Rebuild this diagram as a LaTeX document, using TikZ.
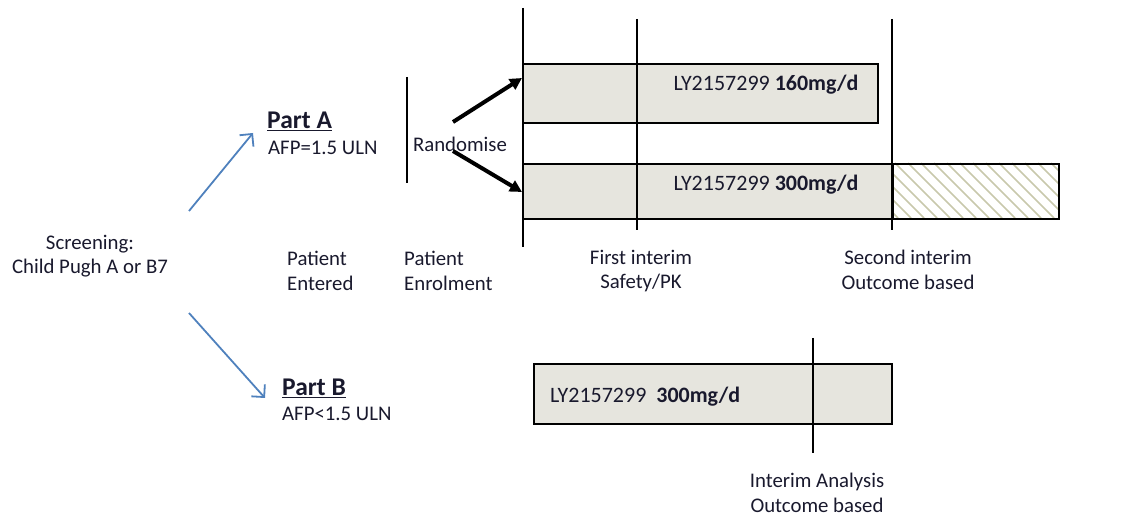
\documentclass[tikz,border=0pt]{standalone}
\usepackage{fontspec}
\setmainfont{Carlito}
\usetikzlibrary{arrows.meta}
\definecolor{txt}{RGB}{25,25,45}
\definecolor{boxfill}{RGB}{230,229,222}
\definecolor{hatchc}{RGB}{200,200,172}
\definecolor{blueA}{RGB}{79,129,189}
\begin{document}
\begin{tikzpicture}[x=1pt,y=-1pt,
  every node/.style={inner sep=0pt, text=txt},
  lbl/.style={font=\fontsize{20.8}{24.5}\selectfont, align=center},
  lbll/.style={font=\fontsize{20.8}{24.5}\selectfont, align=left, anchor=west},
  boxtxt/.style={font=\fontsize{22}{26}\selectfont},
  partlbl/.style={font=\fontsize{25.5}{28}\selectfont\bfseries, anchor=west},
  armbox/.style={draw=black, line width=2pt, fill=boxfill, anchor=north west},
  hatchbox/.style={draw=black, line width=2pt, anchor=north west},
  timeline/.style={draw=black, line width=2.5pt},
  randarrow/.style={draw=black, line width=4pt, -{Triangle[length=12pt,width=12pt]}},
  partarrow/.style={draw=blueA, line width=1.8pt, -{Straight Barb[length=9pt,width=18pt,line width=1.8pt]}}
]
\useasboundingbox (0,0) rectangle (1138,518);

% ---- arm boxes ----
\node[armbox, minimum width=355pt, minimum height=59pt] (b160) at (522,63) {};
\node[armbox, minimum width=370pt, minimum height=55pt] (b300) at (522,163) {};
\begin{scope}
  \clip (892,163) rectangle (1058,218);
  \foreach \xx in {830,843,...,1070} {
    \draw[hatchc, line width=1.6pt] (\xx,163) -- ({\xx+55},218);
  }
\end{scope}
\node[hatchbox, minimum width=166pt, minimum height=55pt] (bext) at (892,163) {};
\node[armbox, minimum width=358pt, minimum height=60pt] (bB) at (533,363) {};

% ---- box texts ----
\node[boxtxt] (t160) at (766,85) {LY2157299 \textbf{160mg/d}};
\node[boxtxt] (t300) at (766,185) {LY2157299 \textbf{300mg/d}};
\node[boxtxt, anchor=west] (tB) at (550,397) {LY2157299\ \ \textbf{300mg/d}};

% ---- timeline marks ----
\coordinate (v1t) at (523,8);   \coordinate (v1b) at (523,247);
\coordinate (v2t) at (637,19);  \coordinate (v2b) at (637,230);
\coordinate (v3t) at (892,19);  \coordinate (v3b) at (892,230);
\coordinate (vrt) at (407,77);  \coordinate (vrb) at (407,183);
\coordinate (vBt) at (813,338); \coordinate (vBb) at (813,453);
\draw[timeline] (v1t) -- (v1b);
\draw[timeline] (v2t) -- (v2b);
\draw[timeline] (v3t) -- (v3b);
\draw[timeline] (vrt) -- (vrb);
\draw[timeline] (vBt) -- (vBb);

% ---- labels ----
\node[lbl] (screen) at (90,256) {Screening:\\Child Pugh A or B7};
\node[partlbl] (partA) at (267,121) {\underline{Part A}};
\node[lbll] (afpA) at (268,148) {AFP=1.5 ULN};
\node[partlbl] (partB) at (282,388) {\underline{Part B}};
\node[lbll] (afpB) at (282,414) {AFP<1.5 ULN};
\node[lbl] (rand) at (460,144) {Randomise};
\node[lbll] (entered) at (287,271) {Patient\\Entered};
\node[lbll] (enrol) at (404,271) {Patient\\Enrolment};
\node[lbl] (first) at (641,271) {First interim\\Safety/PK};
\node[lbl] (second) at (908,270) {Second interim\\Outcome based};
\node[lbl] (interimB) at (817,493) {Interim Analysis\\Outcome based};

% ---- arrows ----
\coordinate (ra1) at (453,122); \coordinate (ra1e) at (522,78);
\coordinate (ra2) at (453,151); \coordinate (ra2e) at (522,192);
\draw[randarrow] (ra1) -- (ra1e);
\draw[randarrow] (ra2) -- (ra2e);

\coordinate (sa1) at (189,211); \coordinate (sa1e) at (253,133);
\coordinate (sa2) at (189,313); \coordinate (sa2e) at (265,398);
\draw[partarrow] (sa1) -- (sa1e);
\draw[partarrow] (sa2) -- (sa2e);
\end{tikzpicture}
\end{document}
